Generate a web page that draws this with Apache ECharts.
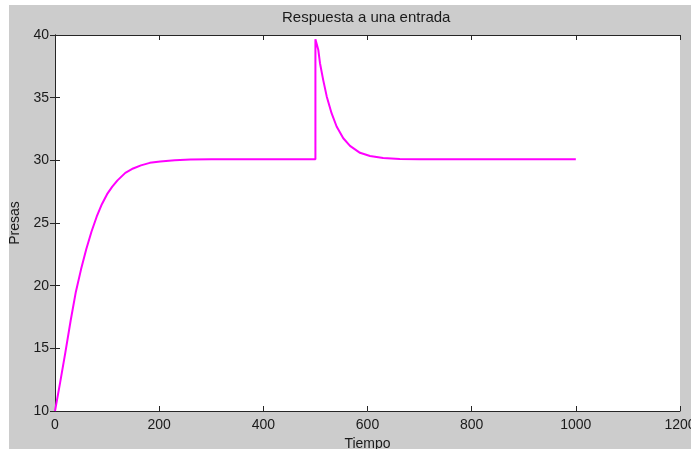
<!DOCTYPE html>
<html>
<head>
<meta charset="utf-8">
<script src="https://cdn.jsdelivr.net/npm/echarts@6/dist/echarts.min.js"></script>
<style>
html,body{margin:0;padding:0;background:#ffffff;overflow:hidden;}
#c{width:691px;height:449px;}
</style>
</head>
<body>
<div id="c"></div>
<script>
var tiempo = [0, 10, 20, 30, 40, 50, 60, 70, 80, 90, 100, 110, 120, 135, 150, 165, 182, 202, 230, 260, 300, 400, 500,
  500, 505.6, 508.8, 515, 521.7, 531, 540.7, 553.5, 566.4, 585.6, 604.8, 630, 662, 700, 800, 900, 1000];
var presas = [10, 12.3, 14.7, 17.2, 19.5, 21.3, 22.9, 24.3, 25.5, 26.5, 27.3, 27.9, 28.4, 29.0, 29.35, 29.6, 29.8, 29.9, 30.0, 30.06, 30.08, 30.08, 30.08,
  39.66, 38.8, 37.75, 36.4, 35.1, 33.76, 32.7, 31.76, 31.15, 30.6, 30.35, 30.19, 30.11, 30.08, 30.08, 30.08, 30.08];
var xTicks = [0, 200, 400, 600, 800, 1000, 1200];
var yTicks = [10, 15, 20, 25, 30, 35, 40];

var pts = tiempo.map(function (t, i) { return [t, presas[i]]; });
var font = 'Liberation Sans, Arial, sans-serif';
var txt = '#1a1a1a';
var axLine = {show: true, lineStyle: {color: '#262626', width: 1}};
var tick = {show: true, inside: true, length: 5, lineStyle: {color: '#262626'}};

var chart = echarts.init(document.getElementById('c'), null, {renderer: 'canvas'});
chart.setOption({
  animation: false,
  backgroundColor: '#ffffff',
  graphic: [
    {type: 'rect', z: -10, silent: true, shape: {x: 9, y: 5, width: 682, height: 444}, style: {fill: '#cccccc'}},
    {type: 'rect', z: -9, silent: true, shape: {x: 55, y: 35, width: 625, height: 376}, style: {fill: '#ffffff'}}
  ],
  title: {
    text: 'Respuesta a una entrada',
    left: 282, top: 10, padding: 0,
    textStyle: {fontFamily: font, fontSize: 15, fontWeight: 'normal', color: txt}
  },
  grid: {left: 55, top: 35, right: 11, bottom: 38, containLabel: false, outerBoundsMode: 'none'},
  xAxis: [{
    type: 'value', min: 0, max: 1200, interval: 200,
    name: 'Tiempo', nameLocation: 'middle', nameGap: 23,
    nameTextStyle: {fontFamily: font, fontSize: 14, color: txt},
    axisLine: axLine, axisTick: tick,
    axisLabel: {fontFamily: font, fontSize: 14, color: txt, margin: 7,
      formatter: function (v) { return xTicks.indexOf(v) >= 0 ? String(v) : ''; }},
    splitLine: {show: false}
  }, {
    type: 'value', position: 'top', min: 0, max: 1200, interval: 200,
    axisLine: axLine, axisTick: tick, axisLabel: {show: false}, splitLine: {show: false}
  }],
  yAxis: [{
    type: 'value', min: 10, max: 40, interval: 5,
    name: 'Presas', nameLocation: 'middle', nameGap: 25, nameRotate: 90,
    nameTextStyle: {fontFamily: font, fontSize: 14, color: txt},
    axisLine: axLine, axisTick: tick,
    axisLabel: {fontFamily: font, fontSize: 14, color: txt, margin: 6,
      formatter: function (v) { return yTicks.indexOf(v) >= 0 ? String(v) : ''; }},
    splitLine: {show: false}
  }, {
    type: 'value', position: 'right', min: 10, max: 40, interval: 5,
    axisLine: axLine, axisTick: tick, axisLabel: {show: false}, splitLine: {show: false}
  }],
  series: [{
    type: 'line', data: pts, showSymbol: false, smooth: false,
    lineStyle: {color: '#ff00ff', width: 2},
    itemStyle: {color: '#ff00ff'}
  }]
});
</script>
</body>
</html>
